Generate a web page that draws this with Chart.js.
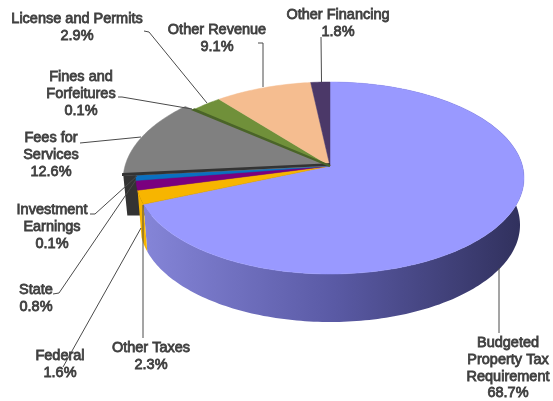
<!DOCTYPE html>
<html>
<head>
<meta charset="utf-8">
<title>Revenue by source</title>
<script src="https://cdn.jsdelivr.net/npm/chart.js@4"></script>
<style>
  html, body { margin: 0; padding: 0; background: #fff; }
  canvas { display: block; }
</style>
</head>
<body>
<canvas id="chart" width="553" height="401"></canvas>
<script>
const categories = ["Budgeted Property Tax Requirement", "Other Taxes", "Federal", "State", "Investment Earnings", "Fees for Services", "Fines and Forfeitures", "License and Permits", "Other Revenue", "Other Financing"];
const shares = [68.7, 2.3, 1.6, 0.8, 0.1, 12.6, 0.1, 2.9, 9.1, 1.8];
const sliceColors = ["#9999ff", "#f7b500", "#7a007f", "#0a70c0", "#333333", "#808080", "#4a6428", "#70903a", "#f5bd90", "#4b3868"];

// how each label is broken over lines, same order as categories
const labelLines = [
  ["Budgeted", "Property Tax", "Requirement"], ["Other Taxes"], ["Federal"], ["State"],
  ["Investment", "Earnings"], ["Fees for", "Services"], ["Fines and", "Forfeitures"],
  ["License and Permits"], ["Other Revenue"], ["Other Financing"]
];
// label centre x, y of first line
const labelAnchors = [[508, 343], [151, 348], [60, 356], [36, 290], [52, 210], [51, 138], [81, 77], [77, 19], [217, 30], [338, 15]];
const leaders = [
  [[499, 268], [499, 333]],
  [[143, 205], [143, 338]],
  [[141, 228], [63, 367]],
  [[136, 180], [59, 293], [53, 294]],
  [[137, 176], [95, 214], [90, 214]],
  [[141, 137], [80, 143]],
  [[192, 109], [122, 97], [118, 97]],
  [[207, 103], [149, 32], [144, 31]],
  [[263, 87], [263, 43], [258, 43]],
  [[321.5, 82], [321, 37]]
];

// pie geometry on screen (3D look)
const tilt = 0.125;
const topFace = { x: 330, y: 178, rx: 194, ry: 96 };
const baseFace = { x: 330, y: 225, rx: 190, ry: 97 };
const GRAY = 5, INVEST = 4, THIN = [4, 6];

function project(angle, r, face) {
  const u = r * Math.cos(angle), v = r * Math.sin(angle);
  const d = 1 - v * tilt;
  return [face.x + face.rx * u * Math.sqrt(1 - tilt * tilt) / d, face.y + face.ry * (v - tilt) / d];
}

function arcPoints(start, end, r, face) {
  const pts = [];
  const n = Math.max(2, Math.ceil((end - start) / 0.02));
  for (let i = 0; i <= n; i++) pts.push(project(start + (end - start) * i / n, r, face));
  return pts;
}

function tracePath(ctx, pts) {
  ctx.beginPath();
  pts.forEach((p, i) => i ? ctx.lineTo(p[0], p[1]) : ctx.moveTo(p[0], p[1]));
  ctx.closePath();
}

const pie3d = {
  id: "pie3d",
  beforeDatasetsDraw(chart) {
    const ctx = chart.ctx;
    const arcs = chart.getDatasetMeta(0).data;
    const radius = i => (i === GRAY || i === INVEST) ? 1.065 : 1;

    // dark side of the gray slice shows behind the small slices
    const g = arcs[GRAY];
    const corner = project(g.startAngle, radius(GRAY), topFace);
    const cornerLow = [corner[0] + 4, corner[1] + 40];
    ctx.fillStyle = "#333333";
    tracePath(ctx, [project(0, 0, topFace), corner, cornerLow, [330, cornerLow[1]]]);
    ctx.fill();

    // outer walls
    const shade = ctx.createLinearGradient(143, 0, 524, 0);
    shade.addColorStop(0, "#8585d8");
    shade.addColorStop(0.5, "#5a5aa5");
    shade.addColorStop(1, "#30305c");
    [[0, shade], [1, sliceColors[1]]].forEach(([i, fill]) => {
      const top = arcPoints(arcs[i].startAngle, arcs[i].endAngle, 1, topFace);
      const low = arcPoints(arcs[i].startAngle, arcs[i].endAngle, 1, baseFace).reverse();
      ctx.fillStyle = fill;
      tracePath(ctx, top.concat(low));
      ctx.fill();
    });

    // top faces, thin slices last so they sit on their neighbours
    const order = arcs.map((a, i) => i).filter(i => !THIN.includes(i)).concat(THIN);
    order.forEach(i => {
      const a = arcs[i];
      const pts = [project(0, 0, topFace)].concat(arcPoints(a.startAngle, a.endAngle, radius(i), topFace));
      ctx.save();
      if (i === INVEST) ctx.translate(0, -1.5);
      ctx.fillStyle = ctx.strokeStyle = a.options.backgroundColor;
      ctx.lineWidth = THIN.includes(i) ? (i === INVEST ? 2.5 : 2) : 0.5;
      tracePath(ctx, pts);
      ctx.fill();
      ctx.stroke();
      ctx.restore();
    });

    // leader lines
    ctx.strokeStyle = "#4a4a4a";
    ctx.lineWidth = 1;
    leaders.forEach(line => {
      ctx.beginPath();
      line.forEach((p, i) => i ? ctx.lineTo(p[0], p[1]) : ctx.moveTo(p[0], p[1]));
      ctx.stroke();
    });

    // labels
    ctx.fillStyle = ctx.strokeStyle = "#404040";
    ctx.lineWidth = 0.8;
    ctx.font = "14.5px 'Liberation Sans'";
    ctx.textAlign = "center";
    ctx.textBaseline = "middle";
    labelLines.forEach((lines, i) => {
      const [x, y] = labelAnchors[i];
      lines.concat(shares[i].toFixed(1) + "%").forEach((t, k) => {
        ctx.fillText(t, x, y + k * 16.8);
        ctx.strokeText(t, x, y + k * 16.8);
      });
    });
    return false;
  }
};

new Chart(document.getElementById("chart"), {
  type: "pie",
  data: {
    labels: categories,
    datasets: [{ data: shares, backgroundColor: sliceColors, borderWidth: 0 }]
  },
  options: {
    responsive: false,
    animation: false,
    plugins: { legend: { display: false }, tooltip: { enabled: false } }
  },
  plugins: [pie3d]
});
</script>
</body>
</html>
